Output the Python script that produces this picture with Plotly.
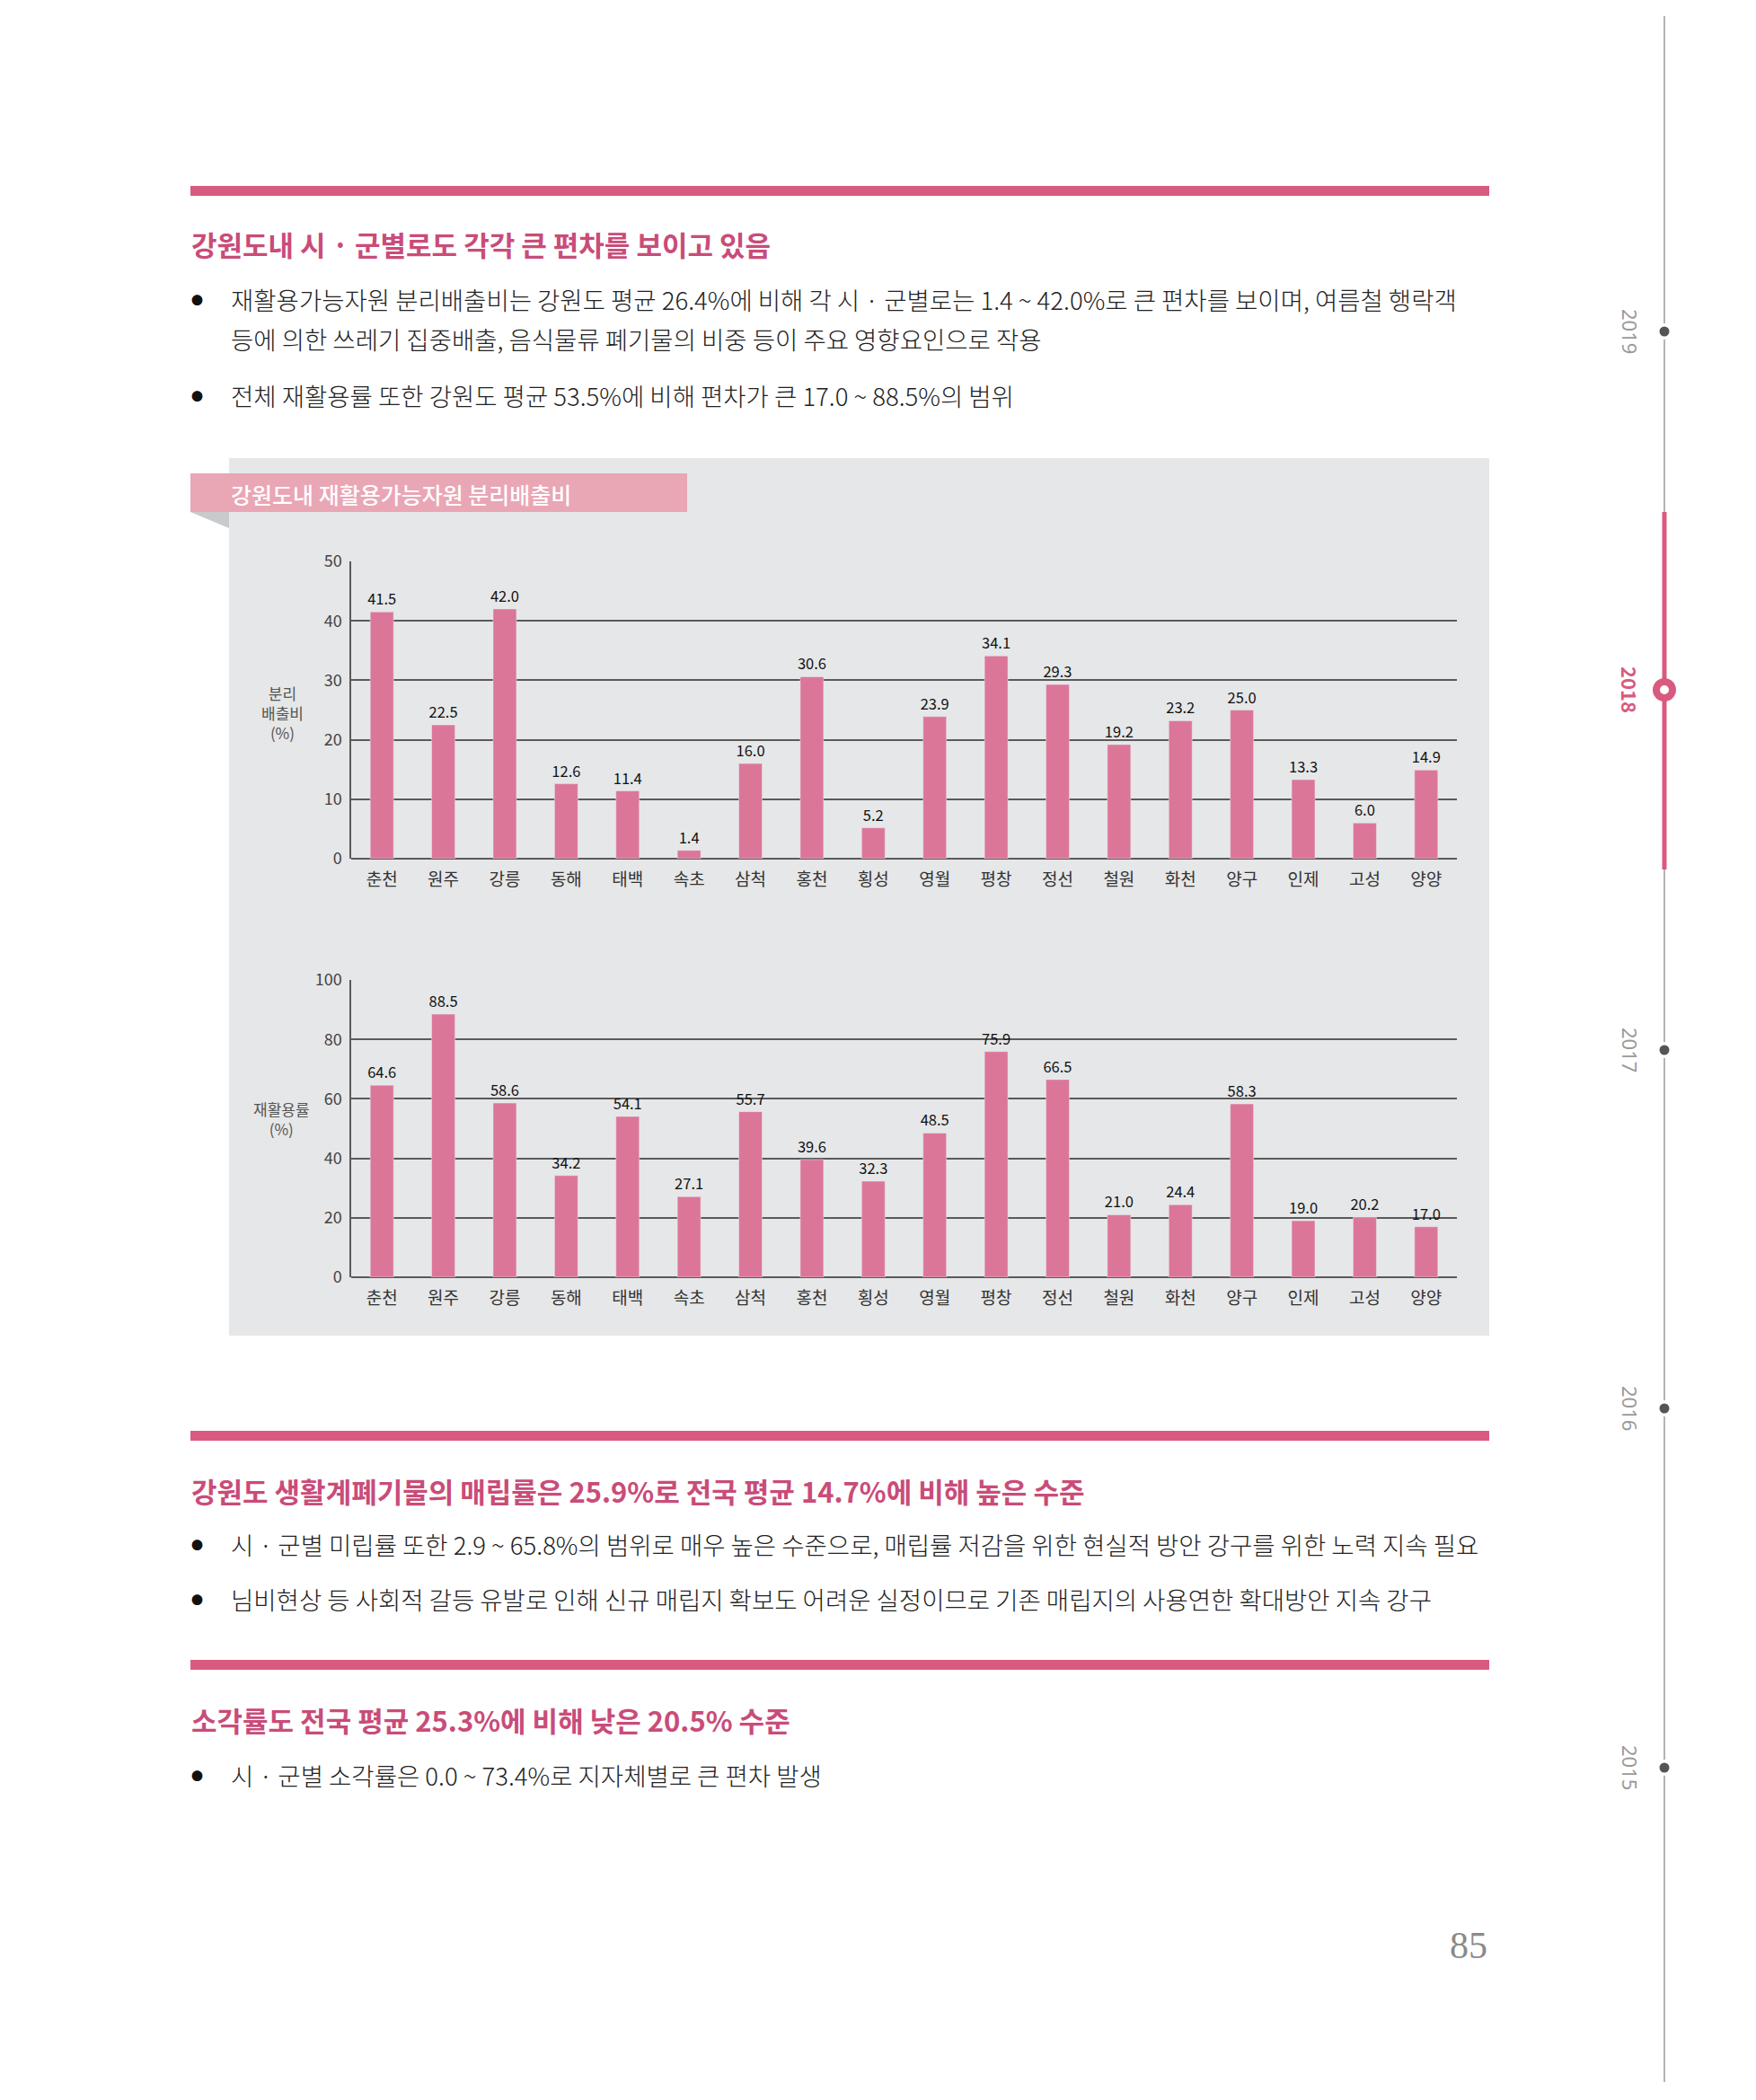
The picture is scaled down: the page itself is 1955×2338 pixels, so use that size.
import plotly.graph_objects as go

W, H = 1955, 2338

# ---------------- data ----------------
categories = ["춘천", "원주", "강릉", "동해", "태백", "속초", "삼척", "홍천", "횡성",
              "영월", "평창", "정선", "철원", "화천", "양구", "인제", "고성", "양양"]
separation_ratio = [41.5, 22.5, 42.0, 12.6, 11.4, 1.4, 16.0, 30.6, 5.2,
                    23.9, 34.1, 29.3, 19.2, 23.2, 25.0, 13.3, 6.0, 14.9]
recycling_rate = [64.6, 88.5, 58.6, 34.2, 54.1, 27.1, 55.7, 39.6, 32.3,
                  48.5, 75.9, 66.5, 21.0, 24.4, 58.3, 19.0, 20.2, 17.0]
y1_ticks = [0, 10, 20, 30, 40, 50]
y2_ticks = [0, 20, 40, 60, 80, 100]
years = ["2019", "2018", "2017", "2016", "2015"]

# ---------------- styles ----------------
FONT = "Noto Sans CJK KR"
BAR = "#dc7699"
RULE = "#d95a7f"
HEAD = "#c94c79"
BANNER = "#e9a6b5"
PANEL = "#e6e7e8"
GRID = "#5a5a5a"
TEXT = "#222222"
BODY = 27.5
HEADSZ = 31


def fx(x):
    return x / W


def fy(y):
    return 1 - y / H


fig = go.Figure()

for vals, xa, ya in [(separation_ratio, "x", "y"), (recycling_rate, "x2", "y2")]:
    fig.add_trace(go.Bar(
        x=categories, y=vals, marker_color=BAR, width=0.38,
        text=[f"{v:.1f}" for v in vals], textposition="outside",
        constraintext="none",
        textfont=dict(family=FONT, size=16.5, color="#111"), cliponaxis=False,
        xaxis=xa, yaxis=ya, showlegend=False, hoverinfo="skip"))

xcommon = dict(showgrid=False, showline=False, zeroline=False, ticks="",
               tickfont=dict(family=FONT, size=19, color="#333"),
               ticklabelstandoff=10, fixedrange=True, automargin=False)
ycommon = dict(showgrid=True, gridcolor=GRID, gridwidth=1.5, showline=True,
               linecolor=GRID, linewidth=1.5, zeroline=True, zerolinecolor=GRID,
               zerolinewidth=1.5, ticks="", ticklabelstandoff=5, automargin=False,
               tickfont=dict(family=FONT, size=18, color="#444"), fixedrange=True)

fig.update_layout(
    width=W, height=H, margin=dict(l=0, r=0, t=0, b=0, pad=0, autoexpand=False),
    paper_bgcolor="white", plot_bgcolor="rgba(0,0,0,0)",
    bargap=0.62, showlegend=False,
    xaxis=dict(domain=[fx(391), fx(1622)], anchor="y", **xcommon),
    yaxis=dict(domain=[fy(956), fy(625)], anchor="x", range=[0, 50],
               tickvals=y1_ticks, **ycommon),
    xaxis2=dict(domain=[fx(391), fx(1622)], anchor="y2", **xcommon),
    yaxis2=dict(domain=[fy(1422), fy(1091)], anchor="x2", range=[0, 100],
                tickvals=y2_ticks, **ycommon),
)

shapes = []


def rect(x0, y0, x1, y1, color, layer="below"):
    shapes.append(dict(type="rect", xref="paper", yref="paper",
                       x0=fx(x0), x1=fx(x1), y0=fy(y1), y1=fy(y0),
                       fillcolor=color, line=dict(width=0), layer=layer))


def circle(cx, cy, r, color, layer="above"):
    shapes.append(dict(type="circle", xref="paper", yref="paper",
                       x0=fx(cx - r), x1=fx(cx + r), y0=fy(cy + r), y1=fy(cy - r),
                       fillcolor=color, line=dict(width=0), layer=layer))


def vline(x, y0, y1, color, width):
    shapes.append(dict(type="line", xref="paper", yref="paper",
                       x0=fx(x), x1=fx(x), y0=fy(y0), y1=fy(y1),
                       line=dict(color=color, width=width), layer="above"))


# gray chart panel
rect(255, 510, 1658, 1487, PANEL)
# banner and fold
rect(212, 527, 765, 570, BANNER, layer="above")
shapes.append(dict(type="path", xref="paper", yref="paper",
                   path=f"M {fx(212)} {fy(570)} L {fx(255)} {fy(570)} L {fx(255)} {fy(588)} Z",
                   fillcolor="#c9cacc", line=dict(width=0), layer="above"))
# pink rules
rect(212, 207, 1658, 218, RULE)
rect(212, 1593, 1658, 1604, RULE)
rect(212, 1848, 1658, 1859, RULE)

# timeline
vline(1853, 18, 2318, "#9a9a9a", 1.5)
vline(1853, 570, 968, RULE, 5)
year_y = [369, 768, 1169, 1568, 1968]
for yr, yy in zip(years, year_y):
    if yr == "2018":
        circle(1853, yy, 13, RULE)
        circle(1853, yy, 5, "white")
    else:
        circle(1853, yy, 9, "white")
        circle(1853, yy, 5.5, "#555555")

fig.update_layout(shapes=shapes)

ann = []


def text(x, y, s, size, color, weight="normal", anchor="left", family=FONT, angle=0):
    ann.append(dict(xref="paper", yref="paper", x=fx(x), y=fy(y), text=s,
                    showarrow=False, xanchor=anchor, yanchor="middle", textangle=angle,
                    font=dict(family=family, size=size, color=color, weight=weight)))


def bullet(y):
    text(219, y, "●", 13, "#111", anchor="center")


# section 1
text(211, 271, "강원도내 시 · 군별로도 각각 큰 편차를 보이고 있음", HEADSZ, HEAD, weight="bold")
bullet(333)
text(255, 333, "재활용가능자원 분리배출비는 강원도 평균 26.4%에 비해 각 시 · 군별로는 1.4 ~ 42.0%로 큰 편차를 보이며, 여름철 행락객", BODY, TEXT, weight=300)
text(255, 377, "등에 의한 쓰레기 집중배출, 음식물류 폐기물의 비중 등이 주요 영향요인으로 작용", BODY, TEXT, weight=300)
bullet(440)
text(255, 440, "전체 재활용률 또한 강원도 평균 53.5%에 비해 편차가 큰 17.0 ~ 88.5%의 범위", BODY, TEXT, weight=300)

# banner title
text(255, 550, "강원도내 재활용가능자원 분리배출비", 25, "white", weight=500)

# axis titles
text(314, 793, "분리<br>배출비<br>(%)", 17, "#555", anchor="center")
text(313, 1245, "재활용률<br>(%)", 17, "#555", anchor="center")

# section 2
text(211, 1659, "강원도 생활계폐기물의 매립률은 25.9%로 전국 평균 14.7%에 비해 높은 수준", HEADSZ, HEAD, weight="bold")
bullet(1719)
text(255, 1719, "시 · 군별 미립률 또한 2.9 ~ 65.8%의 범위로 매우 높은 수준으로, 매립률 저감을 위한 현실적 방안 강구를 위한 노력 지속 필요", BODY, TEXT, weight=300)
bullet(1780)
text(255, 1780, "님비현상 등 사회적 갈등 유발로 인해 신규 매립지 확보도 어려운 실정이므로 기존 매립지의 사용연한 확대방안 지속 강구", BODY, TEXT, weight=300)

# section 3
text(211, 1914, "소각률도 전국 평균 25.3%에 비해 낮은 20.5% 수준", HEADSZ, HEAD, weight="bold")
bullet(1976)
text(255, 1976, "시 · 군별 소각률은 0.0 ~ 73.4%로 지자체별로 큰 편차 발생", BODY, TEXT, weight=300)

# page number
text(1658, 2166, "85", 42, "#8a8a8a", anchor="right", family="Liberation Serif")

# year labels on timeline
for yr, yy in zip(years, year_y):
    if yr == "2018":
        text(1815, yy, yr, 22, RULE, weight="bold", anchor="center", angle=90)
    else:
        text(1815, yy, yr, 22, "#9a9a9a", anchor="center", angle=90, family="Noto Sans")

fig.update_layout(annotations=ann)

fig.write_html("out.html", post_script="document.body.style.margin='0';")
